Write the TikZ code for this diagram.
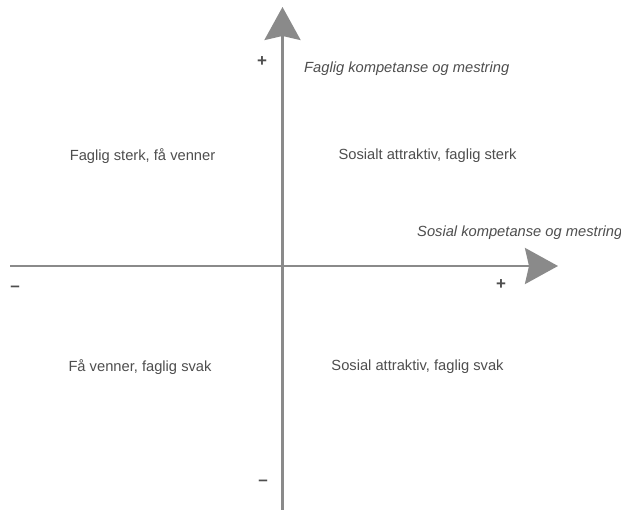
\documentclass[tikz,border=0pt]{standalone}
\usepackage{fontspec}
\setmainfont{Liberation Sans}
\usetikzlibrary{arrows.meta}
\definecolor{axisgray}{RGB}{138,138,138}
\definecolor{textgray}{RGB}{78,78,78}
\begin{document}
\begin{tikzpicture}[x=1pt,y=-1pt,
  axis/.style={draw=axisgray,line width=2.8pt,-{Stealth[length=33pt,width=36pt,inset=4pt,fill=axisgray]}},
  lbl/.style={text=textgray,inner sep=0pt,font=\fontsize{14.7}{17}\selectfont},
  axlbl/.style={lbl,font=\fontsize{14.7}{17}\selectfont\itshape},
  sign/.style={text=textgray,inner sep=0pt,font=\fontsize{17}{19}\selectfont\bfseries}]
\useasboundingbox[fill=white] (0,0) rectangle (621,510);
\coordinate (vbot) at (282.5,510);
\coordinate (vtop) at (282.5,7);
\coordinate (hleft) at (10,266);
\coordinate (hright) at (558,266);
\draw[axis] (hleft) -- (hright);
\draw[axis] (vbot) -- (vtop);
\node[axlbl,anchor=west] (ylab) at (304,69) {Faglig kompetanse og mestring};
\node[axlbl,anchor=west] (xlab) at (417,233) {Sosial kompetanse og mestring};
\node[sign] (yplus) at (262,62) {+};
\node[sign] (xplus) at (501,285) {+};
\node[sign] (xminus) at (15,289) {–};
\node[sign] (yminus) at (263,483) {–};
\node[lbl] (q2) at (142.5,156) {Faglig sterk, få venner};
\node[lbl] (q1) at (427.5,156) {Sosialt attraktiv, faglig sterk};
\node[lbl] (q3) at (140,367) {Få venner, faglig svak};
\node[lbl] (q4) at (417.5,367) {Sosial attraktiv, faglig svak};
\end{tikzpicture}
\end{document}
